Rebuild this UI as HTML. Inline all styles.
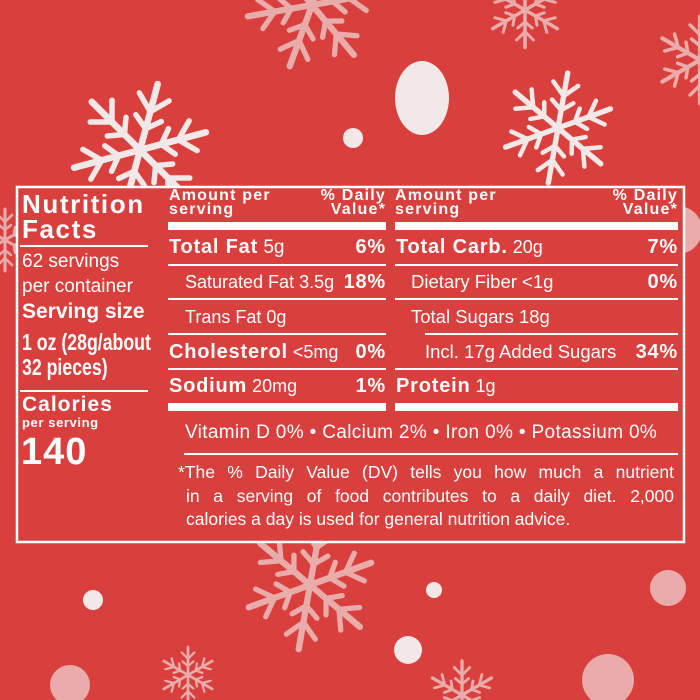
<!DOCTYPE html>
<html><head><meta charset="utf-8">
<style>
body{margin:0;width:700px;height:700px;overflow:hidden;background:#d9403d;font-family:"Liberation Sans",sans-serif;color:#fff;}
#bg{position:absolute;left:0;top:0}
.t{position:absolute;white-space:nowrap;line-height:1;}
.b{font-weight:bold}
.t b{letter-spacing:0.8px;font-size:20px}
.ln{position:absolute;background:#fff;height:2px}
.th{position:absolute;background:#fff;height:8px}
.r{text-align:right;letter-spacing:0.8px}
.h{font-size:16px;line-height:14px;letter-spacing:1.2px}
.fn{position:absolute;left:178px;width:496px;font-size:17.5px;white-space:nowrap;text-align:justify;text-align-last:justify;line-height:1}
</style></head><body>
<svg id="bg" width="700" height="700" viewBox="0 0 700 700">
<defs>
<g id="sf" stroke-linecap="round" fill="none">
 <g id="arm"><line x1="0" y1="0" x2="0" y2="-62" stroke-width="6"/><circle cx="0" cy="-66" r="7" stroke="none"/>
 <polyline points="-14,-50 0,-36 14,-50" stroke-width="5"/><polyline points="-12,-30 0,-20 12,-30" stroke-width="5"/></g>
 <use href="#arm" transform="rotate(60)"/><use href="#arm" transform="rotate(120)"/><use href="#arm" transform="rotate(180)"/><use href="#arm" transform="rotate(240)"/><use href="#arm" transform="rotate(300)"/>
 <circle r="15" stroke="none"/>
</g>
</defs>
<g fill="#f2e8e8" stroke="#f2e8e8">
 <use href="#sf" transform="translate(140,150) scale(1.1) rotate(15)"/>
 <use href="#sf" transform="translate(558,128) scale(0.9) rotate(10)"/>
 <g opacity="0.65"><use href="#sf" transform="translate(312,5) scale(1.05) rotate(20)"/>
 <use href="#sf" transform="translate(525,10) scale(0.6)"/>
 <use href="#sf" transform="translate(700,60) scale(0.7)"/>
 <use href="#sf" transform="translate(310,585) scale(1.05) rotate(10)"/>
 <use href="#sf" transform="translate(188,675) scale(0.45)"/>
 <use href="#sf" transform="translate(462,695) scale(0.55)"/>
 <use href="#sf" transform="translate(5,240) scale(0.5)"/>
 <circle cx="678" cy="230" r="24" stroke="none"/><circle cx="608" cy="680" r="26" stroke="none"/><circle cx="668" cy="588" r="18" stroke="none"/><circle cx="70" cy="685" r="20" stroke="none"/>
 </g>
 <ellipse cx="422" cy="98" rx="27" ry="37" stroke="none"/>
 <circle cx="353" cy="138" r="10" stroke="none"/>
 <circle cx="93" cy="600" r="10" stroke="none"/>
 <circle cx="434" cy="590" r="8" stroke="none"/>
 <circle cx="408" cy="650" r="14" stroke="none"/>
</g>
<rect x="17" y="187" width="667" height="355" fill="#d9403d" stroke="#fff" stroke-width="2.5"/>
</svg>

<!-- left column -->
<div class="t b" style="left:22px;top:191px;font-size:26px;letter-spacing:1.6px">Nutrition</div>
<div class="t b" style="left:22px;top:216px;font-size:26px;letter-spacing:1.6px">Facts</div>
<div class="ln" style="left:20px;top:245px;width:128px;height:1.5px"></div>
<div class="t" style="left:22px;top:252px;font-size:19px">62 servings</div>
<div class="t" style="left:22px;top:277px;font-size:19px">per container</div>
<div class="t b" style="left:22px;top:301px;font-size:21px">Serving size</div>
<div class="t b" style="left:22px;top:331px;font-size:23px;transform:scaleX(0.77);transform-origin:left">1 oz (28g/about</div>
<div class="t b" style="left:22px;top:356px;font-size:23px;transform:scaleX(0.77);transform-origin:left">32 pieces)</div>
<div class="ln" style="left:20px;top:390px;width:128px;height:1.5px"></div>
<div class="t b" style="left:22px;top:394px;font-size:21px;letter-spacing:1px">Calories</div>
<div class="t b" style="left:22px;top:416px;font-size:13px;letter-spacing:0.6px">per serving</div>
<div class="t b" style="left:21px;top:433px;font-size:38px;letter-spacing:1px">140</div>

<!-- column 1 -->
<div class="t b h" style="left:169px;top:189px">Amount per<br>serving</div>
<div class="t b r h" style="left:266px;width:120px;top:189px">% Daily<br>Value*</div>
<div class="th" style="left:168px;top:222px;width:218px"></div>
<div class="t" style="left:169px;top:237px;font-size:19px"><b>Total Fat</b> 5g</div>
<div class="t b r" style="left:300px;width:86px;top:237px;font-size:20px">6%</div>
<div class="ln" style="left:168px;top:264px;width:218px"></div>
<div class="t" style="left:185px;top:273px;font-size:18px">Saturated Fat 3.5g</div>
<div class="t b r" style="left:300px;width:86px;top:272px;font-size:20px">18%</div>
<div class="ln" style="left:168px;top:298px;width:218px"></div>
<div class="t" style="left:185px;top:308px;font-size:18px">Trans Fat 0g</div>
<div class="ln" style="left:168px;top:333px;width:218px"></div>
<div class="t" style="left:169px;top:342px;font-size:18px"><b>Cholesterol</b> &lt;5mg</div>
<div class="t b r" style="left:300px;width:86px;top:342px;font-size:20px">0%</div>
<div class="ln" style="left:168px;top:368px;width:218px"></div>
<div class="t" style="left:169px;top:376px;font-size:18px"><b>Sodium</b> 20mg</div>
<div class="t b r" style="left:300px;width:86px;top:376px;font-size:20px">1%</div>
<div class="th" style="left:168px;top:403px;width:218px"></div>

<!-- column 2 -->
<div class="t b h" style="left:395px;top:189px">Amount per<br>serving</div>
<div class="t b r h" style="left:558px;width:120px;top:189px">% Daily<br>Value*</div>
<div class="th" style="left:395px;top:222px;width:283px"></div>
<div class="t" style="left:396px;top:237px;font-size:18px"><b>Total Carb.</b> 20g</div>
<div class="t b r" style="left:590px;width:88px;top:237px;font-size:20px">7%</div>
<div class="ln" style="left:395px;top:264px;width:283px"></div>
<div class="t" style="left:411px;top:273px;font-size:18.5px">Dietary Fiber &lt;1g</div>
<div class="t b r" style="left:590px;width:88px;top:272px;font-size:20px">0%</div>
<div class="ln" style="left:395px;top:298px;width:283px"></div>
<div class="t" style="left:411px;top:308px;font-size:18.5px">Total Sugars 18g</div>
<div class="ln" style="left:425px;top:333px;width:253px"></div>
<div class="t" style="left:425px;top:343px;font-size:18.5px">Incl. 17g Added Sugars</div>
<div class="t b r" style="left:590px;width:88px;top:342px;font-size:20px">34%</div>
<div class="ln" style="left:395px;top:368px;width:283px"></div>
<div class="t" style="left:396px;top:376px;font-size:18px"><b>Protein</b> 1g</div>
<div class="th" style="left:395px;top:403px;width:283px"></div>

<div class="t" style="left:185px;top:423px;font-size:19px;letter-spacing:0.35px">Vitamin D 0% • Calcium 2% • Iron 0% • Potassium 0%</div>
<div class="ln" style="left:184px;top:453px;width:494px"></div>
<div class="fn" style="top:464px">*The % Daily Value (DV) tells you how much a nutrient</div>
<div class="fn" style="top:488px;left:186px;width:488px">in a serving of food contributes to a daily diet. 2,000</div>
<div class="fn" style="top:511px;left:186px;width:auto;text-align-last:left">calories a day is used for general nutrition advice.</div>
</body></html>
